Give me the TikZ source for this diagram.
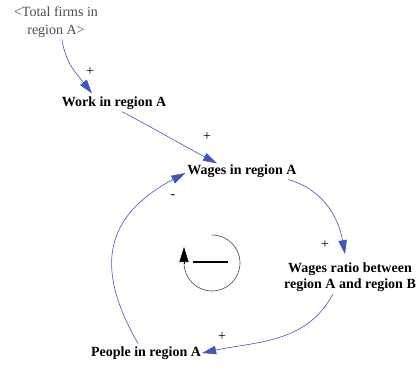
\documentclass[tikz,border=0pt]{standalone}
\usepackage{fontspec}
\setmainfont{Liberation Serif}
\usetikzlibrary{arrows.meta}
\definecolor{linkblue}{RGB}{68,84,184}
\tikzset{
  var/.style={font=\fontsize{14}{16.5}\selectfont\bfseries, inner sep=2pt, align=center},
  shadow/.style={font=\fontsize{14}{17.5}\selectfont, text=black!70, inner sep=2pt, align=center},
  link/.style={draw=linkblue, line width=0.6pt, -{Triangle[length=14pt,width=8.5pt,fill=linkblue]}},
  sign/.style={font=\fontsize{14}{16}\selectfont, inner sep=0pt},
  loopline/.style={draw=black!75, line width=0.6pt}
}
\begin{document}
\begin{tikzpicture}[x=1pt,y=1pt]
\useasboundingbox (0,0) rectangle (420,370);
\node[shadow] (tf) at (56,348) {<Total firms in\\region A>};
\node[var] (work) at (114,267) {Work in region A};
\node[var] (wages) at (242,199) {Wages in region A};
\node[var] (ratio) at (350,93) {Wages ratio between\\region A and region B};
\node[var] (people) at (146,17) {People in region A};

\draw[link] ([xshift=6pt]tf.south) to[out=-82,in=128] ([xshift=-22pt,yshift=1pt]work.north);
\draw[link] ([xshift=8pt]work.south) to[out=-28,in=152] ([xshift=-25pt,yshift=-1pt]wages.north);
\draw[link] ([xshift=46pt]wages.south) to[out=-15,in=100] ([xshift=-5pt,yshift=6pt]ratio.north);
\draw[link] ([xshift=-17pt]ratio.south) to[out=-118,in=12] ([xshift=-1pt]people.east);
\draw[link] ([xshift=-8pt,yshift=1pt]people.north) to[out=120,in=-152,looseness=1.3] ([yshift=-2pt]wages.west);

\node[sign] (s1) at (90,298) {+};
\node[sign] (s2) at (207,233) {+};
\node[sign] (s3) at (325,125) {+};
\node[sign] (s4) at (222,33) {+};
\node[sign] (s5) at (173,173) {-};

\coordinate (lc) at (212,107);
\draw[loopline] ([yshift=28pt]lc) arc[start angle=90,end angle=-180,radius=28pt];
\draw[draw=black, line width=0.6pt, -{Triangle[length=15pt,width=9pt,fill=black]}] ([xshift=-28pt,yshift=-1pt]lc) -- ++(0,17);
\draw[black, line width=2.6pt] ([xshift=-19pt,yshift=1pt]lc) -- ([xshift=16pt,yshift=1pt]lc);
\end{tikzpicture}
\end{document}
